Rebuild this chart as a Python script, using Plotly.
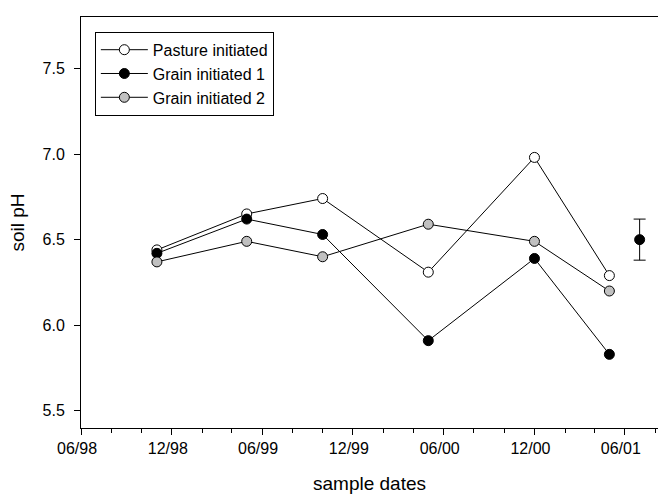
import plotly.graph_objects as go

# Sampling dates and soil pH for each treatment
dates = ["1998-11-01", "1999-05-01", "1999-10-01", "2000-05-01", "2000-12-01", "2001-05-01"]
pasture = [6.44, 6.65, 6.74, 6.31, 6.98, 6.29]
grain1 = [6.42, 6.62, 6.53, 5.91, 6.39, 5.83]
grain2 = [6.37, 6.49, 6.40, 6.59, 6.49, 6.20]

# Reference point with error bar
ref_date = ["2001-07-01"]
ref_ph = [6.50]
ref_err = [0.12]

series_names = ["Pasture initiated", "Grain initiated 1", "Grain initiated 2"]
series_fill = ["white", "black", "#c0c0c0"]

y_ticks = [5.5, 6.0, 6.5, 7.0, 7.5]

FONT = "Liberation Sans, Arial, sans-serif"

fig = go.Figure()
for name, vals, fill in zip(series_names, [pasture, grain1, grain2], series_fill):
    fig.add_trace(go.Scatter(
        x=dates, y=vals, name=name, mode="lines+markers",
        line=dict(color="black", width=1),
        marker=dict(symbol="circle", size=10, color=fill,
                    line=dict(color="black", width=1)),
    ))

fig.add_trace(go.Scatter(
    x=ref_date, y=ref_ph, mode="markers", showlegend=False,
    marker=dict(symbol="circle", size=10, color="black",
                line=dict(color="black", width=1)),
    error_y=dict(type="data", array=ref_err, visible=True,
                 color="black", thickness=1, width=6),
))

fig.update_layout(
    width=658, height=494,
    margin=dict(l=81, r=0, t=17, b=66),
    paper_bgcolor="white", plot_bgcolor="white",
    font=dict(family=FONT, size=16, color="black"),
    legend=dict(
        x=0.024, y=0.964, xanchor="left", yanchor="top",
        bordercolor="black", borderwidth=1, bgcolor="white",
        font=dict(size=16), itemwidth=47, tracegroupgap=0,
    ),
)

fig.update_xaxes(
    type="date",
    range=["1998-06-01", "2001-08-07"],
    tick0="1998-06-01", dtick="M6", tickformat="%m/%y",
    ticks="outside", ticklen=6, tickwidth=1, tickcolor="black",
    ticklabelshift=-4,
    minor=dict(tick0="1998-06-01", dtick="M2", ticks="outside",
               ticklen=4, tickwidth=1, tickcolor="black", showgrid=False),
    showline=True, linecolor="black", linewidth=1, mirror=True,
    showgrid=False, zeroline=False,
    title=dict(text="sample dates", font=dict(size=19), standoff=20),
)

fig.update_yaxes(
    range=[5.4, 7.8],
    tickvals=y_ticks, tickformat=".1f",
    ticks="outside", ticklen=6, tickwidth=1, tickcolor="black",
    ticklabelstandoff=6,
    showline=True, linecolor="black", linewidth=1, mirror=False,
    showgrid=False, zeroline=False,
    title=dict(text="soil pH", font=dict(size=19), standoff=12),
)

fig.write_html("out.html")
